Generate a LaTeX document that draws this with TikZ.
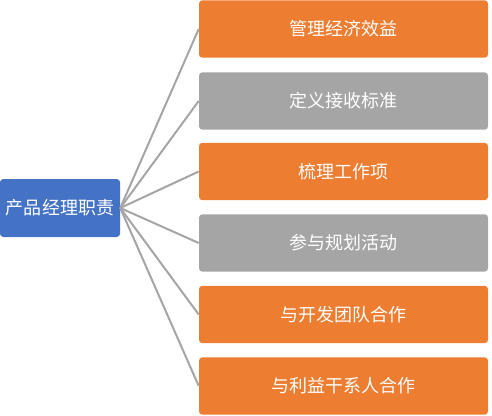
\documentclass[tikz,border=0pt]{standalone}
\usepackage{fontspec}
\newfontfamily\cjk{Noto Sans CJK SC}
\usepackage{xcolor}
\usepackage{tikz}

\definecolor{dutyorange}{RGB}{237,125,49}
\definecolor{dutygray}{RGB}{165,165,165}
\definecolor{dutyblue}{RGB}{68,114,196}

\tikzset{
  dutybox/.style={rectangle, rounded corners=2.5pt, draw=none, text=white,
    minimum width=216.75pt, minimum height=43pt, inner sep=0pt,
    font=\cjk\fontsize{13.5}{15}\selectfont},
  rootbox/.style={rectangle, rounded corners=2.5pt, draw=none, fill=dutyblue, text=white,
    minimum width=90pt, minimum height=43.5pt, inner sep=0pt,
    font=\cjk\fontsize{13.5}{15}\selectfont},
  link/.style={draw=dutygray, line width=1.5pt}
}

\begin{document}
\begin{tikzpicture}[x=0.75pt,y=0.75pt,yscale=-1,xscale=1]
\useasboundingbox (0,0) rectangle (492,415);

% Root Node
\node [rootbox] (root) at (60,208) {产品经理职责};

% Duty Nodes
\node [dutybox, fill=dutyorange] (econ) at (343.5,29) {管理经济效益};
\node [dutybox, fill=dutygray] (accept) at (343.5,101) {定义接收标准};
\node [dutybox, fill=dutyorange] (items) at (343.5,171.5) {梳理工作项};
\node [dutybox, fill=dutygray] (plan) at (343.5,243) {参与规划活动};
\node [dutybox, fill=dutyorange] (team) at (343.5,314.5) {与开发团队合作};
\node [dutybox, fill=dutyorange] (stake) at (343.5,386) {与利益干系人合作};

%Straight Lines
\draw [link] (root.east) -- (econ.west);
\draw [link] (root.east) -- (accept.west);
\draw [link] (root.east) -- (items.west);
\draw [link] (root.east) -- (plan.west);
\draw [link] (root.east) -- (team.west);
\draw [link] (root.east) -- (stake.west);
\end{tikzpicture}
\end{document}
